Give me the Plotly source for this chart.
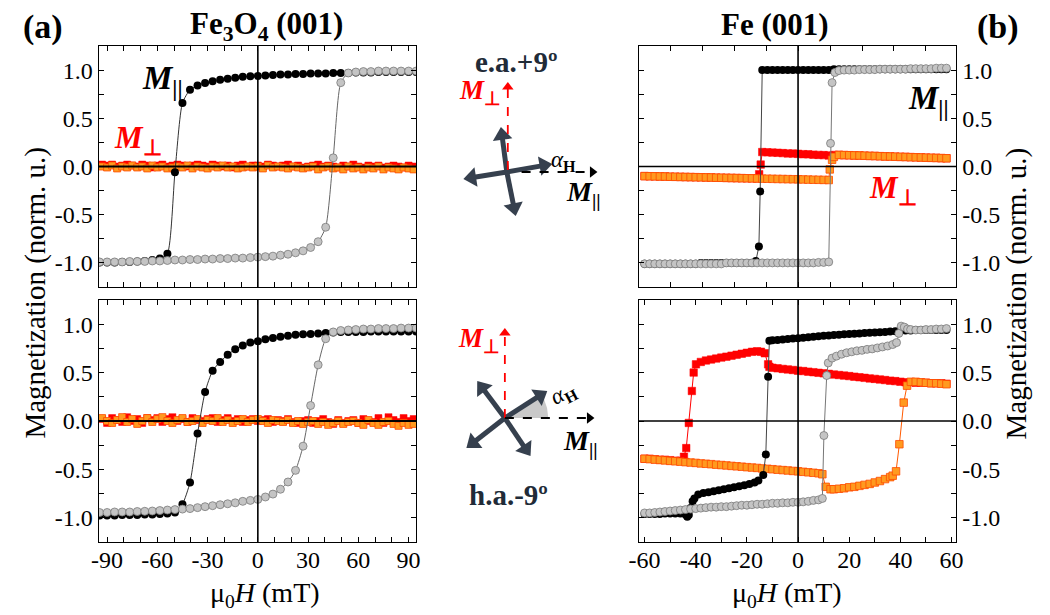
import plotly.graph_objects as go
import numpy as np

# ---------------- data ----------------
# Fe3O4 (001) field grid (mT) for M_parallel
H_L = [-94.5, -90, -85.5, -81, -76.5, -72, -67.5, -63, -58.5, -54,
       -49.5, -45, -40.5, -36, -31.5, -27, -22.5, -18, -13.5, -9,
       -4.5, 0, 4.5, 9, 13.5, 18, 22.5, 27, 31.5, 36,
       40.5, 45, 49.5, 54, 58.5, 63, 67.5, 72, 76.5, 81,
       85.5, 90, 94.5]
# top-left (e.a. +9 deg)
TL_par_down = [-0.995, -0.995, -0.995, -0.99, -0.99, -0.985, -0.98, -0.97, -0.955, -0.905,
               -0.06, 0.66, 0.795, 0.84, 0.865, 0.885, 0.90, 0.91, 0.92, 0.93,
               0.935, 0.94, 0.945, 0.95, 0.955, 0.955, 0.96, 0.96, 0.965, 0.965,
               0.965, 0.97, 0.97, 0.97, 0.975, 0.975, 0.975, 0.98, 0.98, 0.98,
               0.98, 0.98, 0.98]
TL_par_up = [-0.99, -0.99, -0.99, -0.99, -0.985, -0.985, -0.985, -0.98, -0.98, -0.975,
             -0.97, -0.97, -0.965, -0.965, -0.96, -0.96, -0.955, -0.955, -0.95, -0.95,
             -0.945, -0.94, -0.935, -0.93, -0.92, -0.91, -0.895, -0.875, -0.84, -0.78,
             -0.63, 0.09, 0.87, 0.97, 0.98, 0.985, 0.985, 0.99, 0.99, 0.99,
             0.99, 0.99, 0.99]
# bottom-left (h.a. -9 deg)
BL_par_down = [-0.975, -0.975, -0.975, -0.97, -0.97, -0.97, -0.965, -0.965, -0.96, -0.955,
               -0.945, -0.86, -0.635, -0.13, 0.30, 0.52, 0.61, 0.685, 0.74, 0.78,
               0.81, 0.825, 0.845, 0.858, 0.87, 0.88, 0.89, 0.895, 0.90, 0.905,
               0.91, 0.915, 0.92, 0.92, 0.92, 0.92, 0.925, 0.925, 0.925, 0.925,
               0.925, 0.925, 0.925]
BL_par_up = [-0.945, -0.945, -0.94, -0.94, -0.94, -0.935, -0.933, -0.93, -0.925, -0.92,
             -0.915, -0.91, -0.905, -0.895, -0.885, -0.875, -0.865, -0.855, -0.845, -0.83,
             -0.82, -0.81, -0.785, -0.755, -0.705, -0.63, -0.51, -0.26, 0.16, 0.58,
             0.85, 0.92, 0.935, 0.94, 0.945, 0.95, 0.95, 0.955, 0.955, 0.955,
             0.96, 0.96, 0.96]
# Fe3O4 M_perp grid
H_P = [-93, -90, -87, -84, -81, -78, -75, -72, -69, -66,
       -63, -60, -57, -54, -51, -48, -45, -42, -39, -36,
       -33, -30, -27, -24, -21, -18, -15, -12, -9, -6,
       -3, 0, 3, 6, 9, 12, 15, 18, 21, 24,
       27, 30, 33, 36, 39, 42, 45, 48, 51, 54,
       57, 60, 63, 66, 69, 72, 75, 78, 81, 84,
       87, 90, 93]
TL_perp_down = [0.02, 0.01, 0.02, 0.00, 0.01, 0.02, 0.01, 0.00, 0.02, 0.01,
                -0.01, 0.01, 0.02, 0.00, 0.01, 0.02, 0.01, 0.00, 0.01, 0.02,
                0.01, 0.00, 0.02, 0.01, 0.00, 0.01, -0.01, 0.01, 0.02, 0.00,
                0.01, 0.01, 0.00, 0.02, 0.01, 0.00, 0.01, 0.02, 0.00, 0.01,
                -0.01, 0.00, 0.01, 0.02, 0.00, 0.01, 0.00, -0.01, 0.01, 0.00,
                0.02, 0.00, -0.01, 0.01, 0.00, 0.01, -0.01, 0.00, 0.01, 0.00,
                -0.01, 0.01, 0.00]
TL_perp_up = [0.00, -0.01, 0.01, -0.02, 0.00, -0.01, 0.01, -0.01, 0.00, -0.02,
              0.01, -0.01, 0.00, -0.02, -0.01, 0.00, -0.01, 0.01, -0.02, 0.00,
              -0.01, -0.02, 0.00, -0.01, 0.01, -0.01, 0.00, -0.02, -0.01, 0.00,
              -0.01, 0.00, -0.02, 0.01, -0.01, 0.00, -0.01, -0.02, 0.00, -0.01,
              -0.02, -0.01, 0.00, -0.03, -0.01, 0.00, -0.02, -0.01, -0.03, 0.00,
              -0.02, -0.01, -0.03, -0.01, -0.02, 0.00, -0.03, -0.01, -0.02, -0.03,
              -0.01, -0.02, -0.03]
BL_perp_down = [0.02, -0.02, 0.03, 0.01, -0.01, 0.04, 0.00, 0.02, -0.02, 0.03,
                0.01, 0.03, -0.01, 0.02, 0.04, 0.00, 0.02, -0.01, 0.03, 0.01,
                0.00, 0.02, 0.03, -0.01, 0.01, 0.03, 0.00, 0.02, -0.01, 0.01,
                0.02, 0.00, 0.01, 0.02, -0.01, 0.01, 0.00, 0.02, -0.01, -0.02,
                0.00, 0.01, -0.02, 0.00, 0.02, -0.01, -0.03, 0.01, -0.02, 0.00,
                0.01, -0.02, 0.02, 0.00, -0.01, 0.03, -0.02, 0.04, 0.01, -0.01,
                0.03, 0.00, 0.02]
BL_perp_up = [0.03, 0.00, -0.02, 0.01, 0.04, -0.01, 0.02, -0.03, 0.00, 0.03,
              -0.01, 0.02, 0.04, 0.00, -0.02, 0.01, 0.03, -0.01, 0.00, 0.02,
              -0.02, 0.01, 0.00, 0.03, -0.01, 0.01, -0.02, 0.00, 0.02, -0.01,
              0.01, 0.02, 0.00, -0.02, 0.01, 0.00, -0.01, 0.01, -0.02, 0.00,
              -0.03, -0.01, 0.00, -0.03, -0.01, -0.04, -0.02, 0.00, -0.03, -0.01,
              0.00, -0.02, -0.04, 0.01, -0.02, -0.04, -0.01, 0.00, -0.03, -0.05,
              -0.02, -0.04, -0.03]

# Fe (001) top-right (e.a. +9 deg)
TR_H_par_down = [58, 56, 54, 52, 50, 48, 46, 44, 42, 40,
                 38, 36, 34, 32, 30, 28, 26, 24, 22, 20,
                 18, 16, 14, 12, 10, 8, 6, 4, 2, 0,
                 -2, -4, -6, -8, -10, -12, -14, -14.8, -15.3, -16.5,
                 -18, -20, -22, -24, -26, -28, -30, -32, -34, -36,
                 -38, -40, -42, -44, -46, -48, -50, -52, -54, -56,
                 -58, -60]
TR_par_down = [1.01, 1.01, 1.01, 1.01, 1.01, 1.01, 1.01, 1.01, 1.01, 1.01,
               1.01, 1.01, 1.01, 1.01, 1.01, 1.01, 1.01, 1.01, 1.01, 1.01,
               1.01, 1.01, 1.01, 1.00, 1.00, 1.00, 1.00, 1.00, 1.00, 1.00,
               1.00, 1.00, 1.00, 1.00, 1.00, 1.00, 1.00, -0.26, -0.83, -0.98,
               -1.00, -1.00, -1.00, -1.00, -1.00, -1.00, -1.00, -1.00, -1.00, -1.00,
               -1.00, -1.01, -1.01, -1.01, -1.01, -1.01, -1.01, -1.01, -1.01, -1.01,
               -1.01, -1.01]
TR_H_par_up = [-60, -58, -56, -54, -52, -50, -48, -46, -44, -42,
               -40, -38, -36, -34, -32, -30, -28, -26, -24, -22,
               -20, -18, -16, -14, -12, -10, -8, -6, -4, -2,
               0, 2, 4, 6, 8, 10, 12, 12.7, 13.3, 14.4,
               16, 18, 20, 22, 24, 26, 28, 30, 32, 34,
               36, 38, 40, 42, 44, 46, 48, 50, 52, 54,
               56, 58]
TR_par_up = [-1.01, -1.01, -1.01, -1.01, -1.01, -1.01, -1.01, -1.01, -1.01, -1.01,
             -1.01, -1.01, -1.01, -1.01, -1.01, -1.01, -1.00, -1.00, -1.00, -1.00,
             -1.00, -1.00, -1.00, -1.00, -1.00, -1.00, -1.00, -1.00, -1.00, -1.00,
             -1.00, -1.00, -1.00, -1.00, -0.995, -0.995, -0.99, 0.24, 0.87, 0.975,
             0.995, 1.00, 1.00, 1.00, 1.005, 1.005, 1.005, 1.005, 1.01, 1.01,
             1.01, 1.01, 1.01, 1.01, 1.015, 1.015, 1.015, 1.015, 1.015, 1.02,
             1.02, 1.02]
TR_H_perp_down = [58, 56, 54, 52, 50, 48, 46, 44, 42, 40,
                  38, 36, 34, 32, 30, 28, 26, 24, 22, 20,
                  18, 16, 14, 12, 10, 8, 6, 4, 2, 0,
                  -2, -4, -6, -8, -10, -12, -14, -14.6, -15.2, -16,
                  -18, -20, -22, -24, -26, -28, -30, -32, -34, -36,
                  -38, -40, -42, -44, -46, -48, -50, -52, -54, -56,
                  -58, -60]
TR_perp_down = [0.085, 0.087, 0.089, 0.09, 0.092, 0.094, 0.095, 0.097, 0.099, 0.10,
                0.102, 0.104, 0.105, 0.107, 0.109, 0.11, 0.112, 0.114, 0.115, 0.117,
                0.118, 0.12, 0.12, 0.115, 0.118, 0.12, 0.123, 0.126, 0.128, 0.131,
                0.134, 0.136, 0.139, 0.142, 0.144, 0.147, 0.15, 0.02, -0.08, -0.124,
                -0.123, -0.122, -0.121, -0.12, -0.119, -0.118, -0.117, -0.116, -0.114, -0.113,
                -0.112, -0.111, -0.11, -0.109, -0.108, -0.107, -0.106, -0.104, -0.103, -0.102,
                -0.101, -0.10]
TR_H_perp_up = [-60, -58, -56, -54, -52, -50, -48, -46, -44, -42,
                -40, -38, -36, -34, -32, -30, -28, -26, -24, -22,
                -20, -18, -16, -14, -12, -10, -8, -6, -4, -2,
                0, 2, 4, 6, 8, 10, 12, 12.4, 13.3, 14,
                16, 18, 20, 22, 24, 26, 28, 30, 32, 34,
                36, 38, 40, 42, 44, 46, 48, 50, 52, 54,
                56, 58]
TR_perp_up = [-0.10, -0.101, -0.102, -0.103, -0.104, -0.106, -0.107, -0.108, -0.109, -0.11,
              -0.111, -0.112, -0.113, -0.114, -0.116, -0.117, -0.118, -0.119, -0.12, -0.121,
              -0.122, -0.123, -0.124, -0.126, -0.127, -0.128, -0.129, -0.13, -0.131, -0.132,
              -0.133, -0.134, -0.136, -0.137, -0.138, -0.139, -0.14, -0.03, 0.07, 0.10,
              0.12, 0.118, 0.117, 0.115, 0.114, 0.112, 0.11, 0.109, 0.107, 0.105,
              0.104, 0.102, 0.10, 0.099, 0.097, 0.095, 0.094, 0.092, 0.09, 0.089,
              0.087, 0.085]

# Fe (001) bottom-right (h.a. -9 deg)
BR_H_par_down = [58, 56, 54, 52, 50, 48, 46, 44, 42, 40,
                 38, 36, 34, 32, 30, 28, 26, 24, 22, 20,
                 18, 16, 14, 12, 10, 8, 6, 4, 2, 0,
                 -2, -4, -6, -8, -10, -11.2, -11.7, -12.6, -13.6, -15.5,
                 -17, -19, -21, -23, -25, -27, -29, -31, -33, -35,
                 -37, -39, -40.5, -41.2, -42, -42.7, -43.3, -44, -46, -48,
                 -50, -52, -54, -56, -58, -60]
BR_par_down = [0.94, 0.94, 0.94, 0.94, 0.94, 0.94, 0.94, 0.935, 0.935, 0.93,
               0.927, 0.924, 0.92, 0.917, 0.914, 0.911, 0.908, 0.905, 0.902, 0.898,
               0.895, 0.892, 0.888, 0.884, 0.88, 0.875, 0.87, 0.866, 0.86, 0.855,
               0.851, 0.847, 0.843, 0.838, 0.834, 0.83, 0.456, -0.345, -0.557, -0.615,
               -0.635, -0.65, -0.665, -0.675, -0.685, -0.695, -0.705, -0.715, -0.725, -0.735,
               -0.745, -0.76, -0.80, -0.83, -0.90, -0.97, -0.99, -0.965, -0.955, -0.955,
               -0.955, -0.955, -0.96, -0.96, -0.96, -0.96]
BR_H_par_up = [-60, -58, -56, -54, -52, -50, -48, -46, -44, -42,
               -40, -38, -36, -34, -32, -30, -28, -26, -24, -22,
               -20, -18, -16, -14, -12, -10, -8, -6, -4, -2,
               0, 2, 4, 6, 8, 9.5, 10.1, 11.2, 11.8, 13.3,
               15, 17, 19, 21, 23, 25, 27, 29, 31, 33,
               35, 37, 38.5, 39.4, 40.3, 41.5, 42.8, 44, 46, 48,
               50, 52, 54, 56, 58]
BR_par_up = [-0.95, -0.95, -0.945, -0.94, -0.935, -0.93, -0.925, -0.92, -0.915, -0.91,
             -0.905, -0.90, -0.895, -0.89, -0.89, -0.885, -0.885, -0.88, -0.875, -0.87,
             -0.87, -0.865, -0.86, -0.86, -0.855, -0.85, -0.85, -0.845, -0.845, -0.84,
             -0.84, -0.835, -0.83, -0.82, -0.815, -0.80, -0.15, 0.47, 0.60, 0.65,
             0.67, 0.69, 0.705, 0.715, 0.725, 0.73, 0.74, 0.745, 0.755, 0.765,
             0.775, 0.79, 0.81, 0.905, 0.98, 0.97, 0.95, 0.945, 0.94, 0.94,
             0.945, 0.945, 0.95, 0.95, 0.955]
BR_H_perp_down = [58, 56, 54, 52, 50, 48, 46, 44, 42, 40,
                  38, 36, 34, 32, 30, 28, 26, 24, 22, 20,
                  18, 16, 14, 12, 10, 8, 6, 4, 2, 0,
                  -2, -4, -6, -8, -10, -11.2, -11.7, -13, -14.5, -16,
                  -18, -20, -22, -24, -26, -28, -30, -32, -34, -36,
                  -38, -39.9, -40.8, -41.5, -42.7, -43.7, -44.6, -46, -48, -50,
                  -52, -54, -56, -58, -60]
BR_perp_down = [0.385, 0.39, 0.39, 0.39, 0.395, 0.395, 0.395, 0.40, 0.40, 0.406,
                0.412, 0.417, 0.423, 0.429, 0.435, 0.44, 0.446, 0.452, 0.458, 0.464,
                0.469, 0.475, 0.48, 0.487, 0.492, 0.498, 0.504, 0.51, 0.516, 0.52,
                0.527, 0.533, 0.538, 0.544, 0.55, 0.56, 0.585, 0.70, 0.715, 0.72,
                0.715, 0.705, 0.695, 0.685, 0.675, 0.665, 0.655, 0.645, 0.635, 0.625,
                0.61, 0.585, 0.50, 0.31, -0.02, -0.28, -0.37, -0.41, -0.41, -0.405,
                -0.40, -0.40, -0.395, -0.39, -0.39]
BR_H_perp_up = [-60, -58, -56, -54, -52, -50, -48, -46, -44, -42,
                -40, -38, -36, -34, -32, -30, -28, -26, -24, -22,
                -20, -18, -16, -14, -12, -10, -8, -6, -4, -2,
                0, 2, 4, 6, 8, 9.5, 10.8, 12.7, 14, 16,
                18, 20, 22, 24, 26, 28, 30, 32, 34, 36,
                37, 38.3, 39.6, 41.3, 42.6, 44.1, 46, 48, 50, 52,
                54, 56, 58]
BR_perp_up = [-0.39, -0.394, -0.399, -0.403, -0.407, -0.412, -0.416, -0.42, -0.425, -0.429,
              -0.433, -0.438, -0.442, -0.446, -0.451, -0.455, -0.459, -0.464, -0.468, -0.472,
              -0.477, -0.481, -0.485, -0.49, -0.494, -0.498, -0.503, -0.507, -0.511, -0.516,
              -0.52, -0.525, -0.53, -0.535, -0.54, -0.55, -0.68, -0.705, -0.705, -0.70,
              -0.695, -0.685, -0.68, -0.67, -0.66, -0.65, -0.635, -0.62, -0.60, -0.58,
              -0.565, -0.52, -0.24, 0.19, 0.365, 0.405, 0.405, 0.40, 0.395, 0.39,
              0.39, 0.385, 0.38]

# tick labels
X_TICKS_L = [-90, -60, -30, 0, 30, 60, 90]
X_LABELS_L = ['-90', '-60', '-30', '0', '30', '60', '90']
X_TICKS_R = [-60, -40, -20, 0, 20, 40, 60]
X_LABELS_R = ['-60', '-40', '-20', '0', '20', '40', '60']
Y_TICKS = [-1.0, -0.5, 0.0, 0.5, 1.0]
Y_LABELS = ['-1.0', '-0.5', '0.0', '0.5', '1.0']

# ---------------- figure ----------------
W, Hh = 1050, 615
FONT = 'Liberation Serif'
BLACK_M = dict(color='#000000', line=dict(width=0))
GRAY_M = dict(color='#c4c4c4', line=dict(color='#7a7a7a', width=0.8))
RED_M = dict(color='#ff0000', line=dict(color='#ff0000', width=0.5))
ORG_M = dict(color='#ff9a1f', line=dict(color='#ff4a00', width=0.8))

fig = go.Figure()


def branch(x, y, ax, mk, sym, size, lcol, shape):
    m = dict(mk)
    m['symbol'] = sym
    m['size'] = size
    fig.add_trace(go.Scatter(
        x=x, y=y, xaxis='x' + ax, yaxis='y' + ax, mode='lines+markers',
        line=dict(color=lcol, width=1, shape=shape, smoothing=0.6 if shape == 'spline' else None),
        marker=m, showlegend=False, hoverinfo='skip'))


# top-left
branch(H_P, TL_perp_down, '', RED_M, 'square', 7, '#ff0000', 'linear')
branch(H_P, TL_perp_up, '', ORG_M, 'square', 7, '#ff6a00', 'linear')
branch(H_L, TL_par_down, '', BLACK_M, 'circle', 8, '#333333', 'spline')
branch(H_L, TL_par_up, '', GRAY_M, 'circle', 8, '#666666', 'spline')
# top-right
branch(TR_H_perp_down, TR_perp_down, '2', RED_M, 'square', 7.5, '#ff0000', 'linear')
branch(TR_H_perp_up, TR_perp_up, '2', ORG_M, 'square', 7.5, '#ff5a00', 'linear')
branch(TR_H_par_down, TR_par_down, '2', BLACK_M, 'circle', 8, '#444444', 'linear')
branch(TR_H_par_up, TR_par_up, '2', GRAY_M, 'circle', 8, '#777777', 'linear')
# bottom-left
branch(H_P, BL_perp_down, '3', RED_M, 'square', 7, '#ff0000', 'linear')
branch(H_P, BL_perp_up, '3', ORG_M, 'square', 7, '#ff6a00', 'linear')
branch(H_L, BL_par_down, '3', BLACK_M, 'circle', 8, '#333333', 'spline')
branch(H_L, BL_par_up, '3', GRAY_M, 'circle', 8, '#666666', 'spline')
# bottom-right
branch(BR_H_perp_down, BR_perp_down, '4', RED_M, 'square', 7.5, '#ff0000', 'linear')
branch(BR_H_perp_up, BR_perp_up, '4', ORG_M, 'square', 7.5, '#ff5a00', 'linear')
branch(BR_H_par_down, BR_par_down, '4', BLACK_M, 'circle', 8, '#444444', 'linear')
branch(BR_H_par_up, BR_par_up, '4', GRAY_M, 'circle', 8, '#777777', 'linear')

XL_DOM = [90 / W, 413 / W]
XR_DOM = [639 / W, 962 / W]
YT_DOM = [1 - 287 / Hh, 1 - 46 / Hh]
YB_DOM = [1 - 542 / Hh, 1 - 300 / Hh]
TICKF = dict(family=FONT, size=24, color='black')

common = dict(showline=True, linecolor='black', linewidth=1.2, mirror='ticks',
              ticks='inside', ticklen=5, tickwidth=1, tickcolor='black',
              showgrid=False, zeroline=False, tickfont=TICKF)


def xax(dom, rng, tv, tt, minor_dt, show, anchor):
    d = dict(common)
    d.update(domain=dom, range=rng, anchor=anchor, tickmode='array', tickvals=tv,
             ticktext=tt, showticklabels=show, ticklabelstandoff=-4,
             minor=dict(ticks='inside', ticklen=5, dtick=minor_dt, tick0=0, tickcolor='black'))
    return d


def xax_plain(dom, rng, dt, anchor):
    d = dict(common)
    d.update(domain=dom, range=rng, anchor=anchor, tickmode='linear', dtick=dt, tick0=0,
             showticklabels=False)
    return d


def yax(dom, side, anchor):
    d = dict(common)
    d.update(domain=dom, range=[-1.25, 1.25], anchor=anchor, side=side, tickmode='array',
             tickvals=Y_TICKS, ticktext=Y_LABELS,
             minor=dict(ticks='inside', ticklen=5, dtick=0.25, tick0=0, tickcolor='black'))
    return d


# overlay axes in pixel units for the middle sketch
OV = dict(domain=[0, 1], visible=False, fixedrange=True, showgrid=False, zeroline=False)

fig.update_layout(
    width=W, height=Hh, margin=dict(l=0, r=0, t=0, b=0),
    paper_bgcolor='white', plot_bgcolor='rgba(0,0,0,0)', showlegend=False,
    font=dict(family=FONT, color='black'),
    xaxis=xax(XL_DOM, [-95.1, 94.6], X_TICKS_L, X_LABELS_L, 10, False, 'y'),
    yaxis=yax(YT_DOM, 'left', 'x'),
    xaxis2=xax_plain(XR_DOM, [-62.3, 61.9], 12.5, 'y2'),
    yaxis2=yax(YT_DOM, 'right', 'x2'),
    xaxis3=xax(XL_DOM, [-95.1, 94.6], X_TICKS_L, X_LABELS_L, 10, True, 'y3'),
    yaxis3=yax(YB_DOM, 'left', 'x3'),
    xaxis4=xax(XR_DOM, [-62.3, 61.9], X_TICKS_R, X_LABELS_R, 10, True, 'y4'),
    yaxis4=yax(YB_DOM, 'right', 'x4'),
    xaxis5=dict(OV, range=[0, W], anchor='y5'),
    yaxis5=dict(OV, range=[Hh, 0], anchor='x5'),
)

shapes = []
for ax, hw in [('', 2), ('2', 1.5), ('3', 2), ('4', 1.5)]:
    shapes.append(dict(type='line', xref='x' + ax, yref='y' + ax + ' domain', x0=0, x1=0, y0=0, y1=1,
                       line=dict(color='black', width=1.6), layer='above'))
    shapes.append(dict(type='line', xref='x' + ax + ' domain', yref='y' + ax, x0=0, x1=1, y0=0, y1=0,
                       line=dict(color='black', width=hw), layer='above'))
fig.update_layout(shapes=shapes)


# ---- middle sketch (pixel coordinates on overlay axes) ----
def sk(x, y, **kw):
    fig.add_trace(go.Scatter(x=x, y=y, xaxis='x5', yaxis='y5', showlegend=False,
                             hoverinfo='skip', **kw))


# grey angle wedge
cx, cy, r = 503, 418, 44
th = np.radians(np.linspace(0, 33, 20))
wx = [cx] + list(cx + r * np.cos(th)) + [cx]
wy = [cy] + list(cy - r * np.sin(th)) + [cy]
sk(wx, wy, mode='lines', fill='toself', fillcolor='#c9c9c9', line=dict(width=0, color='#c9c9c9'))


def arrow(x0, y0, x1, y1, color, width, head, dash='solid'):
    dx, dy = x1 - x0, y1 - y0
    L = np.hypot(dx, dy)
    ux, uy = dx / L, dy / L
    rr = head / 2.0
    # shaft ends under the head
    ex, ey = x1 - ux * rr * 1.1, y1 - uy * rr * 1.1
    sk([x0, ex], [y0, ey], mode='lines', line=dict(color=color, width=width, dash=dash))
    # triangle-up marker: tip at rr from centre
    mx, my = x1 - ux * rr, y1 - uy * rr
    ang = np.degrees(np.arctan2(dx, -dy))
    sk([mx], [my], mode='markers',
       marker=dict(symbol='triangle-up', size=head, angle=ang, color=color, line=dict(width=0)))


CROSS = '#36404e'
for (tx, ty) in [(551, 164), (461, 179), (499, 127), (514, 216)]:
    arrow(505, 172, tx, ty, CROSS, 5, 17)
for (tx, ty) in [(475, 381), (546, 391), (464, 448), (529, 456)]:
    arrow(503, 418, tx, ty, CROSS, 5, 17)
arrow(506, 170, 506, 82, '#ff0000', 1.8, 10, dash='dash')
arrow(520, 172, 597, 172, '#000000', 1.8, 10, dash='dash')
arrow(503, 418, 503, 328, '#ff0000', 1.8, 10, dash='dash')
arrow(503, 418, 594, 418, '#000000', 1.8, 10, dash='dash')

ann = []


def px(x):
    return x / W


def py(y):
    return 1 - y / Hh


def text(x, y, s, size, color='black', angle=0):
    ann.append(dict(x=px(x), y=py(y), xref='paper', yref='paper', text=s, showarrow=False,
                    font=dict(family=FONT, size=size, color=color), textangle=angle,
                    xanchor='center', yanchor='middle'))


PAR = '<b><i>M</i><sub>||</sub></b>'
PERP = '<b><i>M</i><sub>⊥</sub></b>'
# titles
text(34, 27, '<b>(a)</b>', 34)
text(1004, 27, '<b>(b)</b>', 34)
text(261, 26, '<b>Fe<sub>3</sub>O<sub>4</sub> (001)</b>', 31)
text(778, 24, '<b>Fe (001)</b>', 31)
# axis titles
text(25, 293, 'Magnetization (norm. u.)', 29, angle=-90)
text(1023, 293, 'Magnetization (norm. u.)', 29, angle=-90)
text(259, 594, 'μ<sub>0</sub><i>H</i> (mT)', 28)
text(790, 594, 'μ<sub>0</sub><i>H</i> (mT)', 28)
# in-panel labels
text(155, 80, PAR, 33)
text(130, 140, PERP, 31, color='#ff0000')
text(934, 100, PAR, 33)
text(898, 190, PERP, 31, color='#ff0000')
# diagram texts
DARK = '#212b38'
text(514, 62, '<b>e.a.+9º</b>', 29, color=DARK)
text(478, 92, PERP, 27, color='#ff0000')
text(563, 161, '<i>α</i><sub><b>H</b></sub>', 23)
text(583, 193, PAR, 28)
text(477, 340, PERP, 27, color='#ff0000')
text(563, 394, '<i>α</i><sub><b>H</b></sub>', 23, angle=-28)
text(580, 442, PAR, 28)
text(507, 495, '<b>h.a.-9º</b>', 29, color=DARK)

fig.update_layout(annotations=ann)
fig.write_html('out.html')
